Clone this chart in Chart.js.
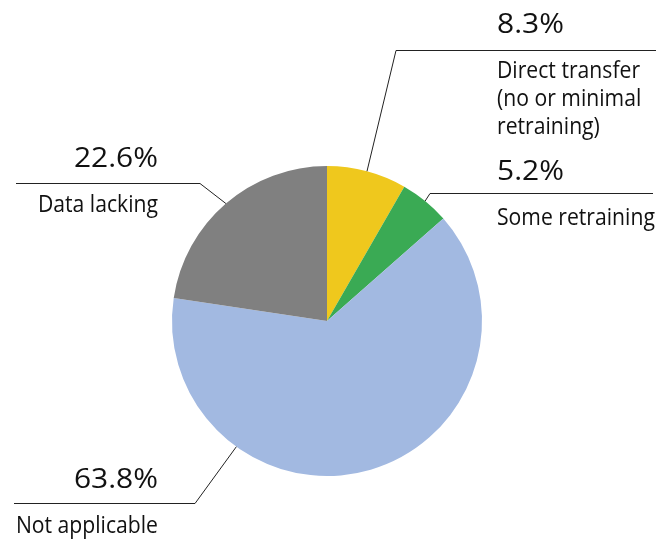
<!DOCTYPE html>
<html>
<head>
  <title>Pie chart</title>
  <script src="https://cdn.jsdelivr.net/npm/chart.js@4.4.0/dist/chart.umd.min.js"></script>
  <style>
    html, body { margin: 0; padding: 0; background: #fff; }
    #wrap { width: 666px; height: 542px; }
  </style>
</head>
<body>
  <div id="wrap"><canvas id="myChart"></canvas></div>
  <script>
    // data
    var labels = ['Direct transfer\n(no or minimal\nretraining)', 'Some retraining', 'Not applicable', 'Data lacking'];
    var values = [8.3, 5.2, 63.8, 22.6];
    var colors = ['#efc81d', '#3aaa54', '#a2b9e1', '#808080'];

    // label placement (elbow of leader line, end of line, text side)
    var labelLayout = [
      { ex: 396, ey: 50,  lineTo: 656, side: 'right', tx: 497, pctY: 33,  lblY: 78,  at: 0.5 },
      { ex: 430, ey: 193, lineTo: 653, side: 'right', tx: 497, pctY: 180, lblY: 225, at: 0.5 },
      { ex: 195, ey: 503, lineTo: 14,  side: 'left',  tx: 158, pctY: 488, lblY: 533, at: 0.727 },
      { ex: 200, ey: 183, lineTo: 16,  side: 'left',  tx: 158, pctY: 167, lblY: 212, at: 0.5 }
    ];

    var FONT = '"Open Sans", "Noto Sans", sans-serif';

    function drawText(ctx, txt, x, y, size, side, sx) {
      ctx.save();
      ctx.font = size + 'px ' + FONT;
      ctx.textBaseline = 'alphabetic';
      ctx.translate(x, y);
      ctx.scale(sx, 1);
      ctx.textAlign = side == 'left' ? 'right' : 'left';
      ctx.fillText(txt, 0, 0);
      ctx.restore();
    }

    var leaderPlugin = {
      id: 'leaders',
      afterDraw: function(chart) {
        var ctx = chart.ctx;
        var arcs = chart.getDatasetMeta(0).data;
        ctx.save();
        ctx.strokeStyle = '#222';
        ctx.lineWidth = 1;
        ctx.fillStyle = '#111';
        arcs.forEach(function(arc, i) {
          var L = labelLayout[i];
          var a = arc.startAngle + (arc.endAngle - arc.startAngle) * L.at;
          var ax = arc.x + Math.cos(a) * arc.outerRadius;
          var ay = arc.y + Math.sin(a) * arc.outerRadius;
          ctx.beginPath();
          ctx.moveTo(ax, ay);
          ctx.lineTo(L.ex, L.ey + 0.5);
          ctx.lineTo(L.lineTo, L.ey + 0.5);
          ctx.stroke();

          drawText(ctx, values[i].toFixed(1) + '%', L.tx, L.pctY, 28, L.side, 1.07);
          var lines = labels[i].split('\n');
          lines.forEach(function(t, k) {
            drawText(ctx, t, L.tx, L.lblY + k * 28, 23, L.side, 0.92);
          });
        });
        ctx.restore();
      }
    };

    var ctx = document.getElementById('myChart').getContext('2d');
    var myChart = new Chart(ctx, {
      type: 'pie',
      data: {
        labels: labels,
        datasets: [{
          data: values,
          backgroundColor: colors,
          borderWidth: 0
        }]
      },
      options: {
        responsive: true,
        maintainAspectRatio: false,
        animation: false,
        layout: { padding: { left: 172, right: 184, top: 166, bottom: 66 } },
        plugins: {
          legend: { display: false },
          tooltip: { enabled: false }
        }
      },
      plugins: [leaderPlugin]
    });
  </script>
</body>
</html>
